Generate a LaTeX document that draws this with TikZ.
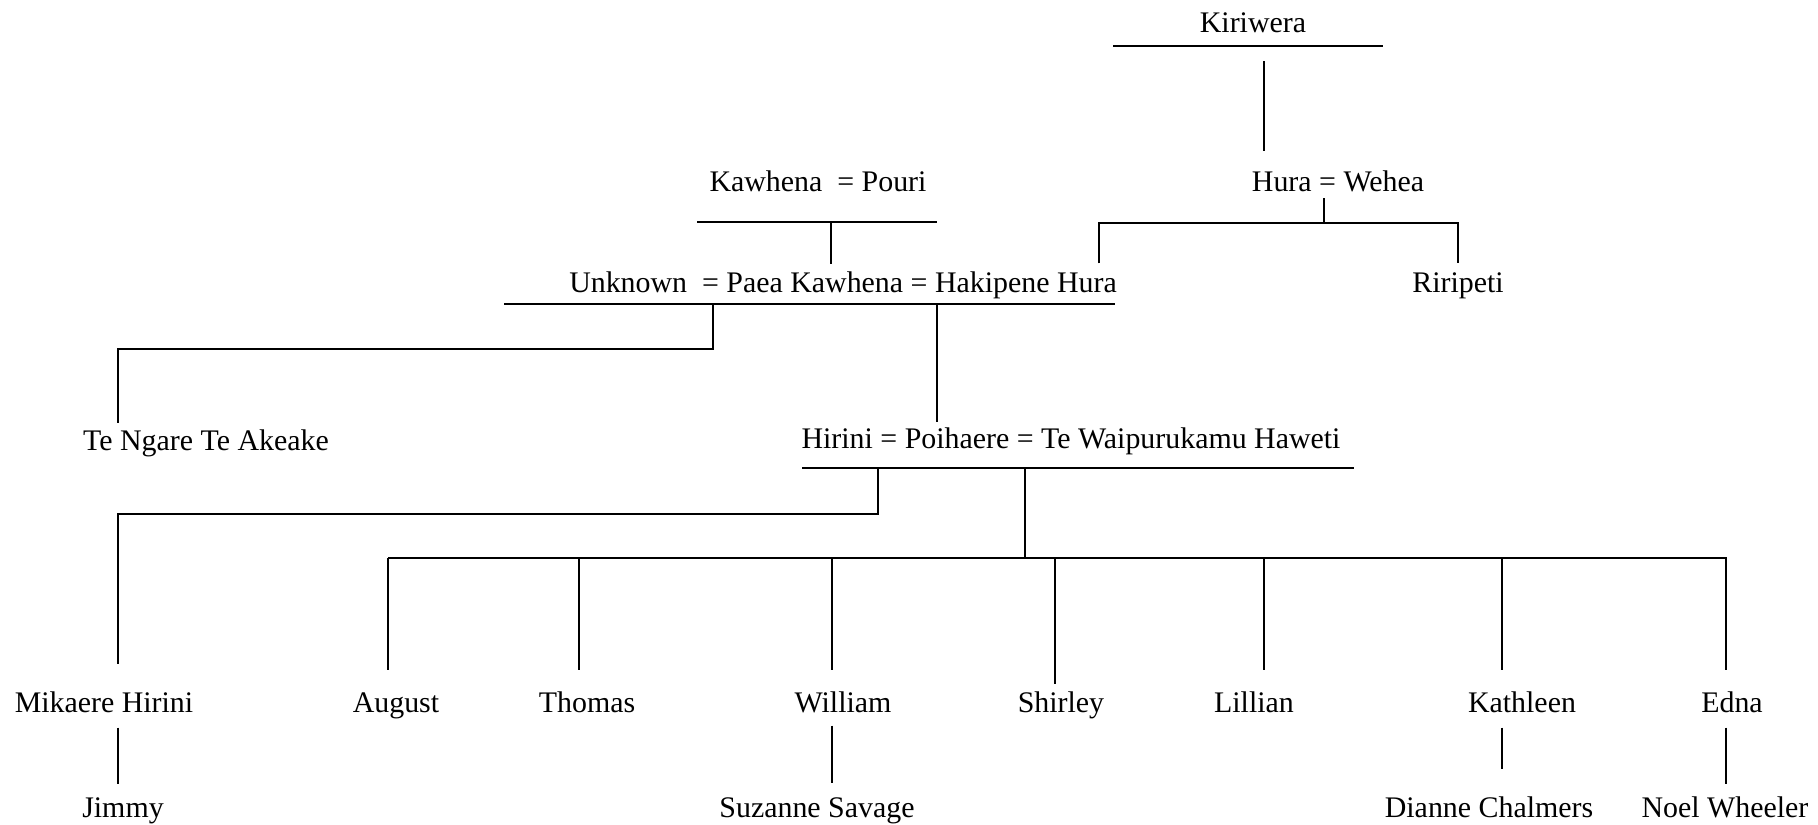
\documentclass[tikz,border=0pt]{standalone}
\usepackage{fontspec}
\setmainfont{Liberation Serif}
\usepackage{tikz}
\usetikzlibrary{
    positioning,           % Relative positioning
    calc                   % Coordinate calculations
}
\tikzset{
    person/.style={font=\fontsize{8.5}{10}\selectfont, inner sep=0pt,
        text height=0.2cm, text depth=0.065cm, anchor=base},
    kin/.style={line width=0.6pt},
}

\begin{document}
\begin{tikzpicture}[x=0.01cm, y=-0.01cm]
    \useasboundingbox (0,0) rectangle (1818,824);
    % Whakapapa: Kiriwera down to the grandchildren of Poihaere
    \node[person] (kiri) at (1253,32) {Kiriwera};
    \node[person] (hura) at (1338,191) {Hura = Wehea};
    \node[person] (kaw) at (818,191) {Kawhena \ = Pouri};
    \node[person] (unk) at (843,292) {Unknown \ = Paea Kawhena = Hakipene Hura};
    \node[person] (riri) at (1458,292) {Riripeti};
    \node[person] (teng) at (206,450) {Te Ngare Te Akeake};
    \node[person] (hir) at (1071,448) {Hirini = Poihaere = Te Waipurukamu Haweti};

    \node[person] (mik) at (104,712) {Mikaere Hirini};
    \node[person] (aug) at (396,712) {August};
    \node[person] (tho) at (587,712) {Thomas};
    \node[person] (wil) at (843,712) {William};
    \node[person] (shi) at (1061,712) {Shirley};
    \node[person] (lil) at (1254,712) {Lillian};
    \node[person] (kat) at (1522,712) {Kathleen};
    \node[person] (edn) at (1732,712) {Edna};

    \node[person] (jim) at (123,817) {Jimmy};
    \node[person] (suz) at (817,817) {Suzanne Savage};
    \node[person] (dia) at (1489,817) {Dianne Chalmers};
    \node[person] (noe) at (1725,817) {Noel Wheeler};

    % bars and drop points
    \coordinate (kirL) at (1113,46);  \coordinate (kirR) at (1383,46);
    \coordinate (kirD) at (1264,61);
    \coordinate (huraL) at (1099,223); \coordinate (huraR) at (1458,223);
    \coordinate (huraT) at (1324,223);
    \coordinate (kawL) at (697,222);  \coordinate (kawR) at (937,222);
    \coordinate (kawD) at (831,222);
    \coordinate (unkL) at (504,304);  \coordinate (unkR) at (1115,304);
    \coordinate (unkA) at (713,304);  \coordinate (unkB) at (937,304);
    \coordinate (tengC) at (713,349); \coordinate (tengL) at (118,349);
    \coordinate (hirL) at (802,468);  \coordinate (hirR) at (1354,468);
    \coordinate (hirA) at (878,468);  \coordinate (hirB) at (1025,468);
    \coordinate (mikC) at (878,514);  \coordinate (mikL) at (118,514);
    \coordinate (kidsL) at (388,558); \coordinate (kidsR) at (1727,558);
    \coordinate (kidsM) at (1025,558);
    \foreach \n/\x in {aug/388, tho/579, wil/832, shi/1055, lil/1264, kat/1502, edn/1726}
        \coordinate (d\n) at (\x,558);

    \draw[kin] (kirL) -- (kirR);
    \draw[kin, shorten >=0.19cm] (kirD) -- (kirD |- hura.north);
    \draw[kin] (huraT |- hura.south) -- (huraT);
    \draw[kin, shorten <=0.08cm, shorten >=0.08cm]
        (huraL |- unk.north) -- (huraL) -- (huraR) -- (huraR |- riri.north);
    \draw[kin] (kawL) -- (kawR);
    \draw[kin, shorten >=0.07cm] (kawD) -- (kawD |- unk.north);
    \draw[kin] (unkL) -- (unkR);
    \draw[kin, shorten >=0.06cm] (unkA) -- (tengC) -- (tengL) -- (tengL |- teng.north);
    \draw[kin, shorten >=0.05cm] (unkB) -- (unkB |- hir.north);
    \draw[kin] (hirL) -- (hirR);
    \draw[kin, shorten >=0.27cm] (hirA) -- (mikC) -- (mikL) -- (mikL |- mik.north);
    \draw[kin] (hirB) -- (kidsM);
    \draw[kin] (kidsL) -- (kidsR);
    \foreach \n in {aug, tho, wil, lil, kat, edn}
        \draw[kin, shorten >=0.21cm] (d\n) -- (d\n |- \n.north);
    \draw[kin, shorten >=0.07cm] (dshi) -- (dshi |- shi.north);

    % grandchildren
    \draw[kin, shorten <=0.085cm, shorten >=0.12cm] (mikL |- mik.south) -- (mikL |- jim.north);
    \draw[kin, shorten <=0.065cm, shorten >=0.13cm] (dwil |- wil.south) -- (dwil |- suz.north);
    \draw[kin, shorten <=0.085cm, shorten >=0.27cm] (dkat |- kat.south) -- (dkat |- dia.north);
    \draw[kin, shorten <=0.085cm, shorten >=0.12cm] (dedn |- edn.south) -- (dedn |- noe.north);
\end{tikzpicture}
\end{document}
